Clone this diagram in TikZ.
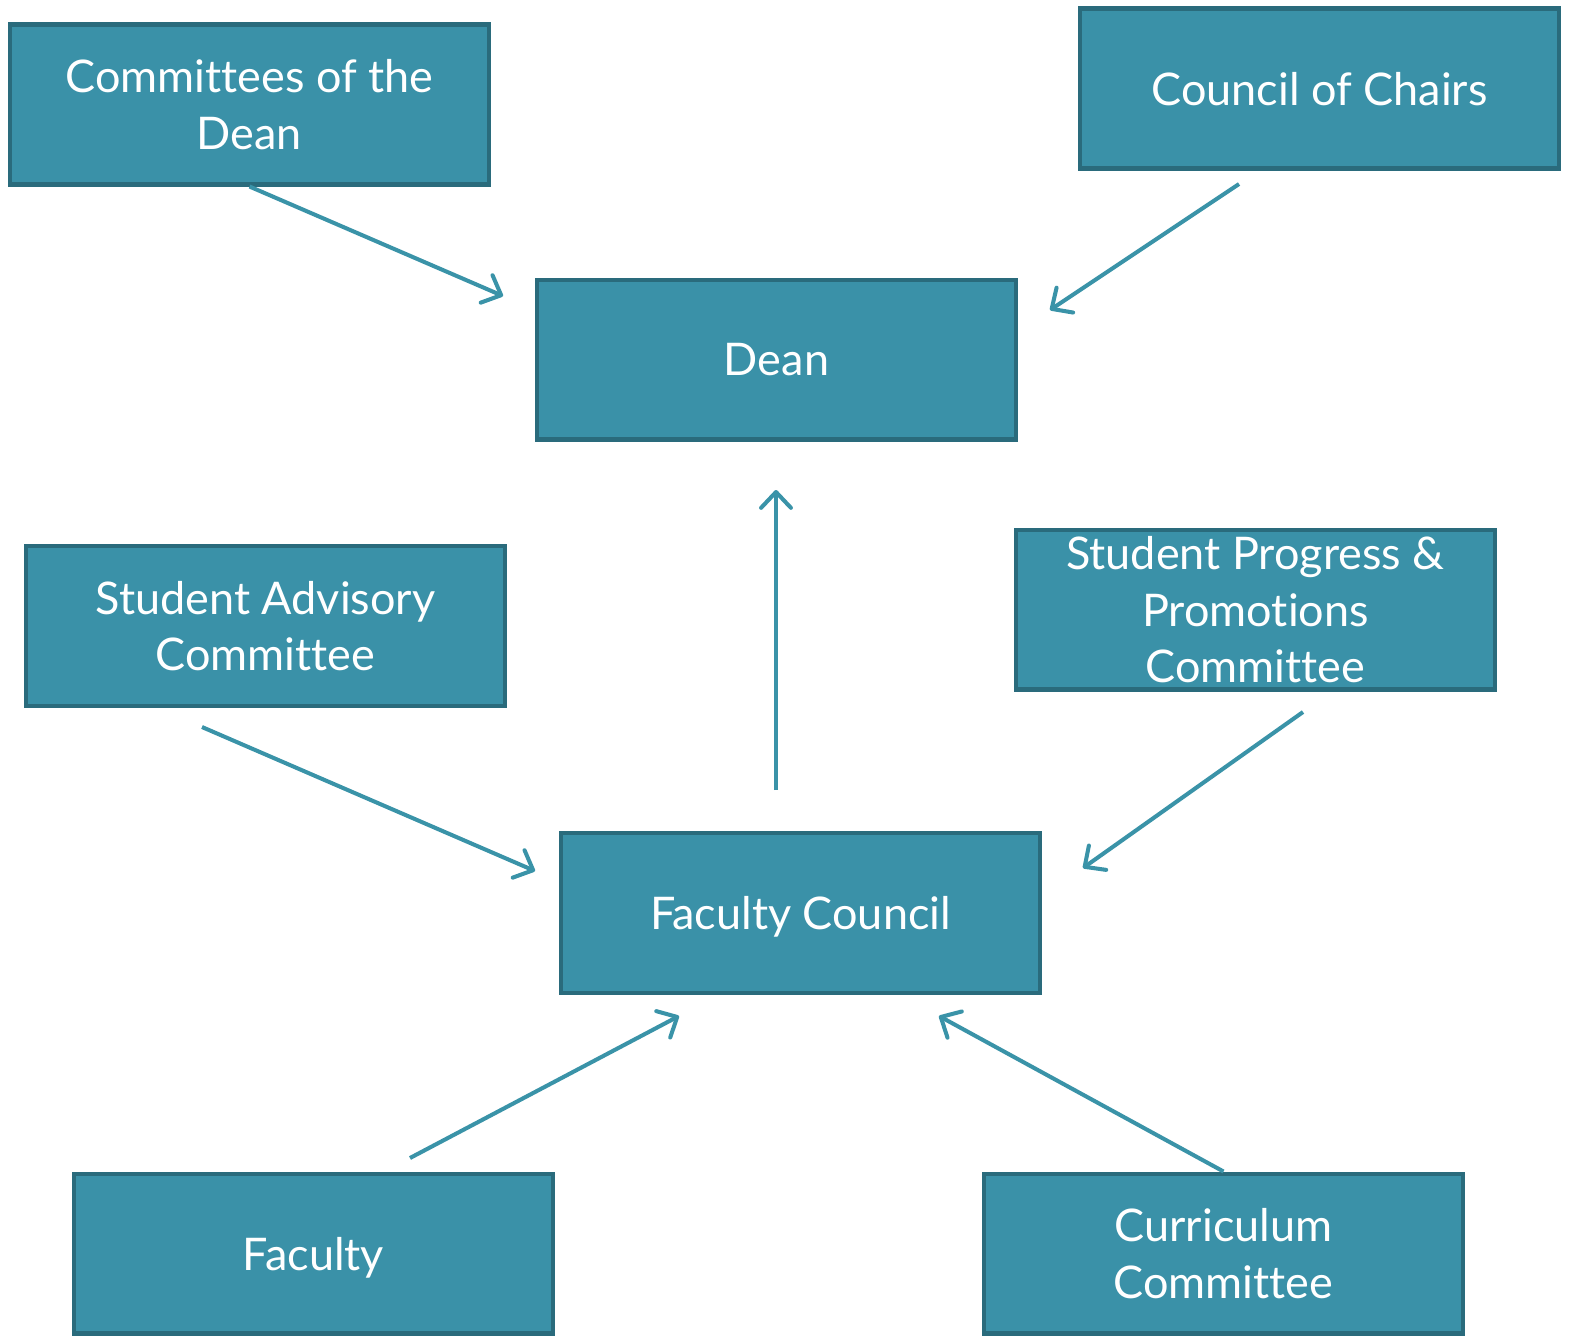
\documentclass[tikz,border=0pt]{standalone}
\usepackage{fontspec}
\setmainfont{Lato}[Ligatures=NoCommon]
\usetikzlibrary{arrows.meta}
\definecolor{boxfill}{HTML}{3A91A8}
\definecolor{boxline}{HTML}{2A6B7C}
\definecolor{arrowc}{HTML}{3A93A8}
\begin{document}
\begin{tikzpicture}[x=0.02cm,y=-0.02cm,
  orgbox/.style={draw=boxline, fill=boxfill, line width=2.3pt, minimum width=9.58cm, minimum height=3.2cm,
    inner sep=0pt, align=center, text=white, text depth=0pt, font=\fontsize{25.6}{32.3}\selectfont},
  link/.style={draw=arrowc, line width=2.3pt, -{Straight Barb[length=9pt,width=17pt,line width=2.3pt,round]}}]
\useasboundingbox (0,0) rectangle (1571,1336);
\node[orgbox] (cotd) at (249.5,104.5) {Committees of the\\Dean};
\node[orgbox] (coc) at (1319.5,88.5) {Council of Chairs};
\node[orgbox] (dean) at (776.5,359.5) {Dean};
\node[orgbox] (sac) at (265.5,626) {Student Advisory\\Committee};
\node[orgbox] (spp) at (1255.5,609.5) {Student Progress \&\\Promotions\\Committee};
\node[orgbox] (fc) at (800.5,913) {Faculty Council};
\node[orgbox] (fac) at (313.5,1253.5) {Faculty};
\node[orgbox] (cc) at (1223.5,1253.5) {Curriculum\\Committee};
\coordinate (a1e) at (503,296);
\coordinate (a2s) at (1239,184);
\coordinate (a2e) at (1050,310);
\coordinate (a3s) at (776,790);
\coordinate (a3e) at (776,490);
\coordinate (a4s) at (202,727);
\coordinate (a4e) at (535,871);
\coordinate (a5s) at (1303,712);
\coordinate (a5e) at (1083,868);
\coordinate (a6s) at (410,1158);
\coordinate (a6e) at (679,1016);
\coordinate (a7e) at (939,1016);
\draw[link] (cotd.south) -- (a1e);
\draw[link] (a2s) -- (a2e);
\draw[link] (a3s) -- (a3e);
\draw[link] (a4s) -- (a4e);
\draw[link] (a5s) -- (a5e);
\draw[link] (a6s) -- (a6e);
\draw[link] (cc.north) -- (a7e);
\end{tikzpicture}
\end{document}
